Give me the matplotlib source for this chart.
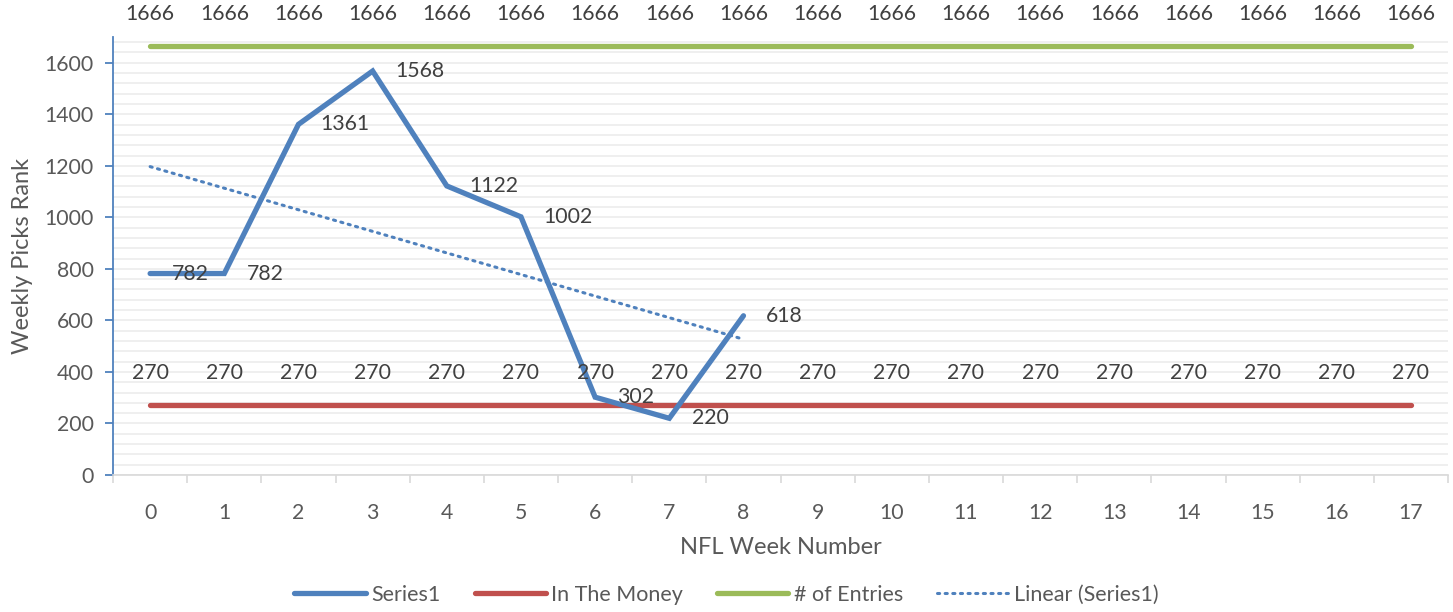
"""Weekly picks rank vs. in-the-money cutoff and entry count, NFL weeks 0-17."""

import numpy as np
import matplotlib

matplotlib.use("Agg")
import matplotlib.pyplot as plt
from matplotlib.ticker import MultipleLocator

plt.rcParams["font.family"] = ["Lato", "DejaVu Sans"]

# Data
weeks = list(range(18))
rank_weeks = [0, 1, 2, 3, 4, 5, 6, 7, 8]
weekly_rank = [782, 782, 1361, 1568, 1122, 1002, 302, 220, 618]
in_the_money = [270] * 18
num_entries = [1666] * 18

BLUE = "#4f81bd"
RED = "#c0504d"
GREEN = "#9bbb59"
TEXT = "#595959"
LABEL = "#404040"
FS = 15.3

fig = plt.figure(figsize=(14.53, 6.12), dpi=100)
ax = fig.add_axes([0.0778, 0.2239, 0.9188, 0.7156])

# Linear trend of Series1 (least squares, like Excel's trendline)
slope, intercept = np.polyfit(rank_weeks, weekly_rank, 1)
trend_x = np.array([rank_weeks[0], rank_weeks[-1]])
trend_y = slope * trend_x + intercept

ax.plot(rank_weeks, weekly_rank, color=BLUE, lw=3.8, solid_joinstyle="miter",
        solid_capstyle="round", label="Series1", zorder=4)
ax.plot(weeks, in_the_money, color=RED, lw=3.8, solid_capstyle="round",
        label="In The Money", zorder=3)
ax.plot(weeks, num_entries, color=GREEN, lw=3.8, solid_capstyle="round",
        label="# of Entries", zorder=3)
ax.plot(trend_x, trend_y, color=BLUE, lw=2.2, ls=(0, (0.7, 1.8)),
        dash_capstyle="round", label="Linear (Series1)", zorder=3)

# Data labels
for x, y in zip(rank_weeks, weekly_rank):
    ax.annotate(str(y), (x, y), xytext=(16, 0), textcoords="offset points",
                ha="left", va="center", fontsize=FS, color=LABEL, zorder=6)
for x, y in zip(weeks, in_the_money):
    ax.annotate(str(y), (x, y), xytext=(0, 23), textcoords="offset points",
                ha="center", va="center", fontsize=FS, color=LABEL, zorder=6)
for x, y in zip(weeks, num_entries):
    ax.annotate(str(y), (x, y), xytext=(0, 23), textcoords="offset points",
                ha="center", va="center", fontsize=FS, color=LABEL,
                zorder=6, annotation_clip=False)

ax.set_xlim(-0.5, 17.5)
ax.set_ylim(0, 1700)

# y axis: major every 200, light grid every 40
ax.yaxis.set_major_locator(MultipleLocator(200))
ax.yaxis.set_minor_locator(MultipleLocator(40))
ax.grid(which="both", axis="y", color="#ececec", lw=1.2, zorder=0)
ax.set_axisbelow(True)
ax.tick_params(axis="y", which="major", length=6, width=1.3, color=BLUE,
               labelsize=FS, labelcolor=TEXT, pad=8)
ax.tick_params(axis="y", which="minor", length=0)

# x axis: labels at categories, tick marks between categories
ax.set_xticks(weeks)
ax.set_xticklabels([str(w) for w in weeks])
ax.set_xticks(np.arange(-0.5, 18.0, 1.0), minor=True)
ax.tick_params(axis="x", which="major", length=0, labelsize=FS,
               labelcolor=TEXT, pad=20)
ax.tick_params(axis="x", which="minor", length=6, width=1.2, color="#d9d9d9")

for side in ["top", "right"]:
    ax.spines[side].set_visible(False)
ax.spines["left"].set_color(BLUE)
ax.spines["left"].set_linewidth(1.3)
ax.spines["bottom"].set_color("#d9d9d9")
ax.spines["bottom"].set_linewidth(1.2)

ax.set_xlabel("NFL Week Number", fontsize=17, color=TEXT, labelpad=10)
ax.set_ylabel("Weekly Picks Rank", fontsize=17, color=TEXT, labelpad=8)

fig.legend(loc="center", bbox_to_anchor=(0.5, 0.028), ncol=4, frameon=False,
           fontsize=15.5, labelcolor=TEXT, handlelength=3.3, handletextpad=0.25,
           columnspacing=1.6)

plt.savefig("out.png", dpi=100)
plt.close()
